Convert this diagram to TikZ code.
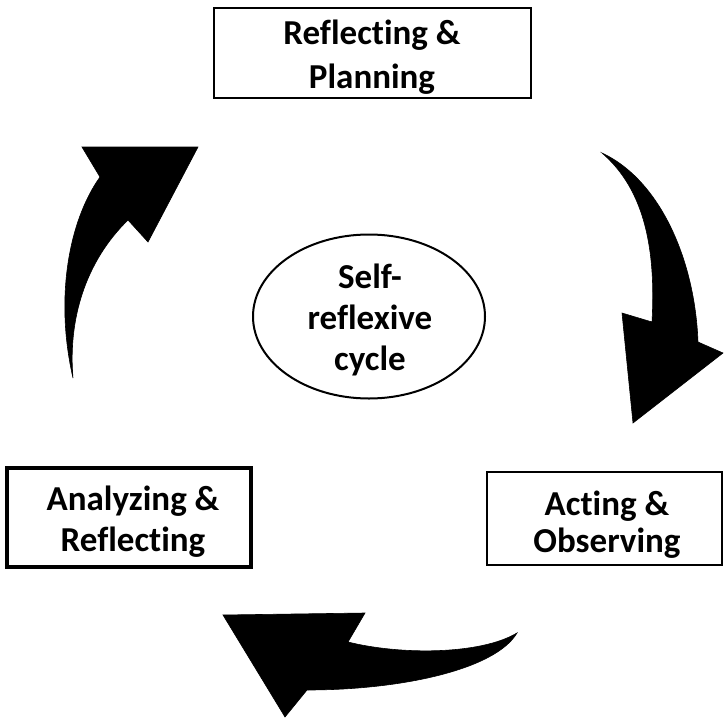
\documentclass[tikz,border=0pt]{standalone}
\usepackage{fontspec}
\setmainfont{Carlito}[Ligatures=NoCommon]
\usetikzlibrary{shapes.geometric}
\begin{document}
\begin{tikzpicture}[x=1pt,y=-1pt,
  lbl/.style={font=\fontsize{35}{41}\selectfont\bfseries, align=center, inner sep=0pt},
  stagebox/.style={draw=black, line width=2.5pt, inner sep=0pt},
  bigarrow/.style={fill=black, draw=black, line width=0.6pt, line join=miter}]
\useasboundingbox (0,0) rectangle (724,718);
% boxes
\node[stagebox, minimum width=317pt, minimum height=90pt] (plan) at (372.5,53) {};
\node[lbl, font=\fontsize{35}{44}\selectfont\bfseries] (plant) at (372,57) {Reflecting \&\\Planning};
\node[stagebox, line width=3.5pt, minimum width=244pt, minimum height=99pt] (anal) at (129,517.5) {};
\node[lbl] (analt) at (133,521.5) {Analyzing \&\\Reflecting};
\node[stagebox, minimum width=235pt, minimum height=93pt] (act) at (604.5,518.5) {};
\node[lbl, font=\fontsize{35}{37}\selectfont\bfseries] (actt) at (607,525) {Acting \&\\Observing};
\node[draw=black, line width=2pt, ellipse, inner sep=0pt, minimum width=232pt, minimum height=164pt] (self) at (369,316.5) {};
\node[lbl] (selft) at (370,319.5) {Self-\\reflexive\\cycle};
% arrow: analyzing -> planning
\fill[bigarrow] (198,147) -- (82,147) -- (100,177)
  .. controls (68,222) and (55,300) .. (73,378)
  .. controls (68,320) and (85,262) .. (128,220)
  -- (148,242) -- cycle;
% arrow: planning -> acting
\fill[bigarrow] (633,423) -- (622,313) -- (652,322)
  .. controls (656,250) and (645,190) .. (602,153)
  .. controls (660,180) and (695,260) .. (698,342)
  -- (723,353) -- cycle;
% arrow: acting -> analyzing
\fill[bigarrow] (223,615) -- (365,613) -- (348,642)
  .. controls (400,655) and (480,655) .. (517,633)
  .. controls (495,670) and (400,690) .. (307,690)
  -- (285,717) -- cycle;
\end{tikzpicture}
\end{document}
